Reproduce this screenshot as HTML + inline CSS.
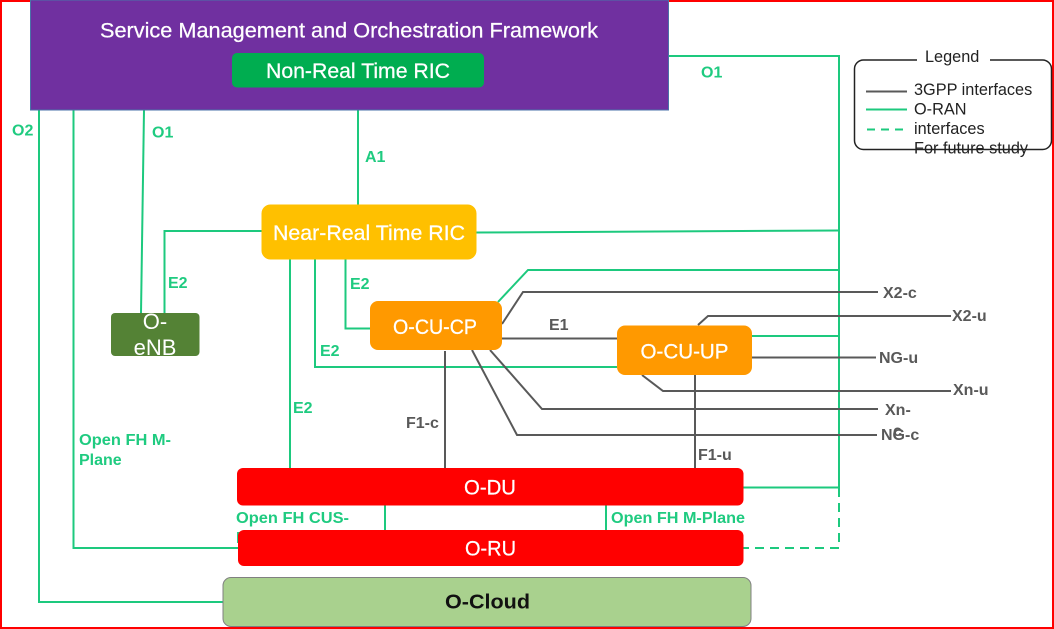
<!DOCTYPE html>
<html>
<head>
<meta charset="utf-8">
<style>
html,body{margin:0;padding:0;background:#fff;width:1054px;height:629px;overflow:hidden}
svg{display:block}
text{font-family:"Liberation Sans",sans-serif}
.g{fill:#1FCB80;font-weight:bold;font-size:16px}
.d{fill:#595959;font-weight:bold;font-size:16px}
.w{fill:#fff;font-size:21px;stroke:#fff;stroke-width:.25}
.l{fill:#222;font-size:16.3px}
.gl{fill:none;stroke:#1DC97E;stroke-width:2}
.dl{fill:none;stroke:#595959;stroke-width:2}
</style>
</head>
<body>
<svg width="1054" height="629" viewBox="0 0 1054 629" xmlns="http://www.w3.org/2000/svg">
<rect width="1054" height="629" fill="#fff"/>
<rect x="1" y="1" width="1052" height="627" fill="none" stroke="#f00" stroke-width="2"/>

<!-- green connectors -->
<path class="gl" d="M39 110V602H223"/>
<path class="gl" d="M73.500 110V548H238"/>
<path class="gl" d="M144 110L141 313"/>
<path class="gl" d="M358 87V205"/>
<path class="gl" d="M164.500 313V231H262"/>
<path class="gl" d="M476 232.500L839 230.500"/>
<path class="gl" d="M668 56H839V488"/>
<path class="gl" d="M290 259V468"/>
<path class="gl" d="M315 259V367H617"/>
<path class="gl" d="M345.500 259V328.500H370"/>
<path class="gl" d="M498 302L528 270H839"/>
<path class="gl" d="M752 336H839"/>
<path class="gl" d="M743 487.500H839"/>
<path class="gl" d="M839 488V548H743" stroke-dasharray="9 6"/>
<path class="gl" d="M385 505V530"/>
<path class="gl" d="M606 505V530"/>

<!-- grey connectors -->
<path class="dl" d="M445 351V468"/>
<path class="dl" d="M695 375V468"/>
<path class="dl" d="M502 338.500H617"/>
<path class="dl" d="M502 324L523 292H878"/>
<path class="dl" d="M698 325L708 316H951"/>
<path class="dl" d="M752 357.500H876"/>
<path class="dl" d="M642 375L663 391H951"/>
<path class="dl" d="M490 350L542 409H878"/>
<path class="dl" d="M472 350L517 435H877"/>

<!-- labels under the boxes -->
<text class="g" x="236" y="523" textLength="113" lengthAdjust="spacingAndGlyphs">Open FH CUS-</text>
<text class="g" x="236" y="543">Plane</text>

<!-- boxes -->
<rect x="30.500" y="0" width="638" height="110" fill="#7030A0" stroke="#4A72A8" stroke-width="1"/>
<text class="w" x="100" y="37.500" textLength="498" lengthAdjust="spacingAndGlyphs">Service Management and Orchestration Framework</text>
<rect x="232" y="53" width="252" height="34.500" rx="5" fill="#00AD50"/>
<text class="w" x="266" y="78" textLength="184" lengthAdjust="spacingAndGlyphs">Non-Real Time RIC</text>

<rect x="261.500" y="204.500" width="215" height="55" rx="9" fill="#FFC000"/>
<text class="w" x="273" y="240" textLength="192" lengthAdjust="spacingAndGlyphs">Near-Real Time RIC</text>

<rect x="111" y="313" width="88.500" height="43" rx="4" fill="#548235"/>
<text x="155" y="329" fill="#fff" font-size="22" text-anchor="middle">O-</text>
<text x="155" y="355" fill="#fff" font-size="22" text-anchor="middle">eNB</text>

<rect x="370" y="301" width="132" height="49" rx="8" fill="#FF9900"/>
<text class="w" x="393" y="334" textLength="84" lengthAdjust="spacingAndGlyphs">O-CU-CP</text>

<rect x="617" y="325.500" width="135" height="49.500" rx="8" fill="#FF9900"/>
<text class="w" x="640.500" y="358.500" textLength="88" lengthAdjust="spacingAndGlyphs">O-CU-UP</text>

<rect x="237" y="468" width="506.500" height="37.500" rx="6" fill="#f00"/>
<text class="w" x="464" y="494.500" textLength="52" lengthAdjust="spacingAndGlyphs">O-DU</text>

<rect x="238" y="530" width="505.500" height="36" rx="6" fill="#f00"/>
<text class="w" x="465" y="555.500" textLength="51" lengthAdjust="spacingAndGlyphs">O-RU</text>

<rect x="223" y="577.500" width="528" height="49" rx="8" fill="#A9D18E" stroke="#808080" stroke-width="1"/>
<text x="445" y="608.500" fill="#111" font-size="20" font-weight="bold" textLength="85" lengthAdjust="spacingAndGlyphs">O-Cloud</text>

<!-- green labels -->
<text class="g" x="12" y="135.500">O2</text>
<text class="g" x="152" y="137.500">O1</text>
<text class="g" x="701" y="77.500">O1</text>
<text class="g" x="365" y="162">A1</text>
<text class="g" x="168" y="288">E2</text>
<text class="g" x="350" y="289">E2</text>
<text class="g" x="320" y="356">E2</text>
<text class="g" x="293" y="413">E2</text>
<text class="g" x="79" y="445" textLength="92" lengthAdjust="spacingAndGlyphs">Open FH M-</text>
<text class="g" x="79" y="465">Plane</text>
<text class="g" x="611" y="523" textLength="134" lengthAdjust="spacingAndGlyphs">Open FH M-Plane</text>

<!-- grey labels -->
<text class="d" x="406" y="428">F1-c</text>
<text class="d" x="698" y="460">F1-u</text>
<text class="d" x="549" y="330">E1</text>
<text class="d" x="883" y="298">X2-c</text>
<text class="d" x="952" y="321">X2-u</text>
<text class="d" x="879" y="363">NG-u</text>
<text class="d" x="953" y="395">Xn-u</text>
<text class="d" x="885" y="415">Xn-</text>
<text class="d" x="881" y="440">NG-c</text>
<text class="d" x="893" y="436">c</text>

<!-- legend -->
<rect x="854.500" y="60" width="197" height="89.500" rx="9" fill="#fff" stroke="#222" stroke-width="1.500"/>
<rect x="917" y="46" width="73" height="22" fill="#fff"/>
<text class="l" x="925" y="62">Legend</text>
<line x1="866" y1="91.500" x2="907" y2="91.500" stroke="#595959" stroke-width="2"/>
<line x1="866" y1="109.500" x2="907" y2="109.500" stroke="#1DC97E" stroke-width="2"/>
<line x1="867" y1="129.500" x2="905" y2="129.500" stroke="#1DC97E" stroke-width="2" stroke-dasharray="8 6"/>
<text class="l" x="914" y="95">3GPP interfaces</text>
<text class="l" x="914" y="114.500">O-RAN</text>
<text class="l" x="914" y="134">interfaces</text>
<text class="l" x="914" y="153.500">For future study</text>
</svg>
</body>
</html>
